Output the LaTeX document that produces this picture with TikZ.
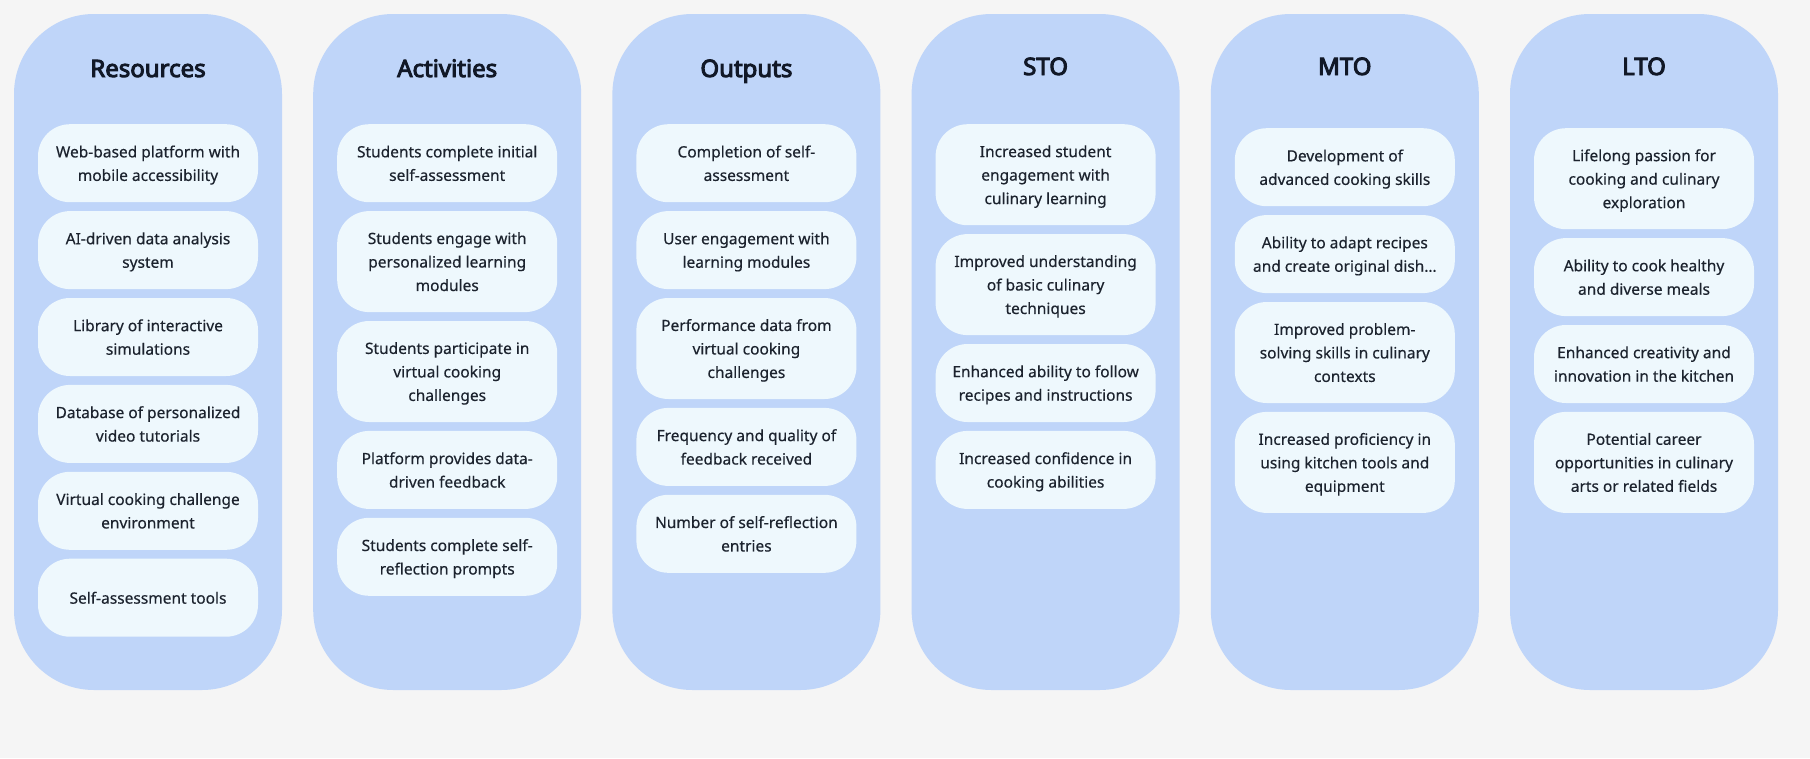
\documentclass[tikz,border=0pt]{standalone}
\usepackage{fontspec}
\setmainfont{Noto Sans}[FakeBold=0.4]
\newfontfamily\headfont{Noto Sans}[FakeBold=4]
\usetikzlibrary{positioning}
\definecolor{pagebg}{HTML}{F5F5F5}
\definecolor{lanefill}{HTML}{BFD5F9}
\definecolor{itemfill}{HTML}{EEF8FD}
\definecolor{inktext}{HTML}{1C232E}
\definecolor{inkhead}{HTML}{111827}
\begin{document}
\begin{tikzpicture}[x=1pt, y=1pt, node distance=8.5pt,
    lane/.style={rectangle, fill=lanefill, rounded corners=80pt, minimum width=268pt, minimum height=676pt, inner sep=0pt},
    head/.style={anchor=base, text=inkhead, font=\headfont\fontsize{24}{28}\selectfont},
    item/.style={rectangle, fill=itemfill, rounded corners=32pt, minimum width=220pt, minimum height=78pt, inner xsep=6pt, inner ysep=0pt, align=center, text=inktext, text depth=0pt, font=\fontsize{15.5}{23.5}\selectfont},
    tall/.style={minimum height=101pt}]

  % page
  \fill[pagebg] (0,0) rectangle (1810,-758);

  % lanes
  \node[lane] (lres) at (148,-352) {};
  \node[lane] (lact) at (447.2,-352) {};
  \node[lane] (lout) at (746.4,-352) {};
  \node[lane] (lsto) at (1045.6,-352) {};
  \node[lane] (lmto) at (1344.8,-352) {};
  \node[lane] (llto) at (1644,-352) {};

  % headings
  \node[head] (hres) at (148,-77) {Resources};
  \node[head] (hact) at (447.2,-77) {Activities};
  \node[head] (hout) at (746.4,-77) {Outputs};
  \node[head] (hsto) at (1045.6,-75) {STO};
  \node[head] (hmto) at (1344.8,-75) {MTO};
  \node[head] (hlto) at (1644,-75) {LTO};

  % resources
  \node[item, anchor=north] (res1) at (148,-124) {Web-based platform with\\mobile accessibility};
  \node[item] (res2) [below=of res1] {AI-driven data analysis\\system};
  \node[item] (res3) [below=of res2] {Library of interactive\\simulations};
  \node[item] (res4) [below=of res3] {Database of personalized\\video tutorials};
  \node[item] (res5) [below=of res4] {Virtual cooking challenge\\environment};
  \node[item] (res6) [below=of res5] {Self-assessment tools};

  % activities
  \node[item, anchor=north] (act1) at (447.2,-124) {Students complete initial\\self-assessment};
  \node[item, tall] (act2) [below=of act1] {Students engage with\\personalized learning\\modules};
  \node[item, tall] (act3) [below=of act2] {Students participate in\\virtual cooking\\challenges};
  \node[item] (act4) [below=of act3] {Platform provides data-\\driven feedback};
  \node[item] (act5) [below=of act4] {Students complete self-\\reflection prompts};

  % outputs
  \node[item, anchor=north] (out1) at (746.4,-124) {Completion of self-\\assessment};
  \node[item] (out2) [below=of out1] {User engagement with\\learning modules};
  \node[item, tall] (out3) [below=of out2] {Performance data from\\virtual cooking\\challenges};
  \node[item] (out4) [below=of out3] {Frequency and quality of\\feedback received};
  \node[item] (out5) [below=of out4] {Number of self-reflection\\entries};

  % short term
  \node[item, tall, anchor=north] (sto1) at (1045.6,-124) {Increased student\\engagement with\\culinary learning};
  \node[item, tall] (sto2) [below=of sto1] {Improved understanding\\of basic culinary\\techniques};
  \node[item] (sto3) [below=of sto2] {Enhanced ability to follow\\recipes and instructions};
  \node[item] (sto4) [below=of sto3] {Increased confidence in\\cooking abilities};

  % medium term
  \node[item, anchor=north] (mto1) at (1344.8,-128) {Development of\\advanced cooking skills};
  \node[item] (mto2) [below=of mto1] {Ability to adapt recipes\\and create original dish…};
  \node[item, tall] (mto3) [below=of mto2] {Improved problem-\\solving skills in culinary\\contexts};
  \node[item, tall] (mto4) [below=of mto3] {Increased proficiency in\\using kitchen tools and\\equipment};

  % long term
  \node[item, tall, anchor=north] (lto1) at (1644,-128) {Lifelong passion for\\cooking and culinary\\exploration};
  \node[item] (lto2) [below=of lto1] {Ability to cook healthy\\and diverse meals};
  \node[item] (lto3) [below=of lto2] {Enhanced creativity and\\innovation in the kitchen};
  \node[item, tall] (lto4) [below=of lto3] {Potential career\\opportunities in culinary\\arts or related fields};

\end{tikzpicture}
\end{document}
